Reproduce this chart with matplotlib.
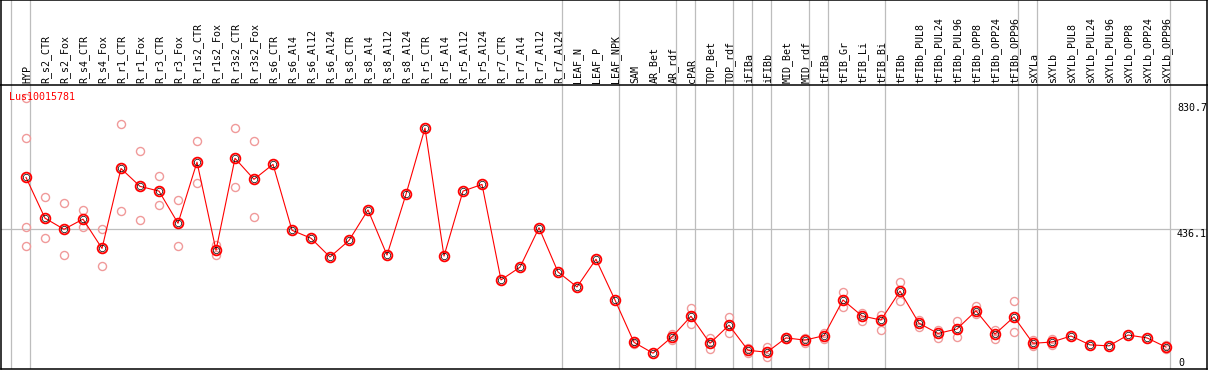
import numpy as np
import matplotlib
matplotlib.use('Agg')
import matplotlib.pyplot as plt
import matplotlib.transforms as mtransforms

gene = "Lus10015781"

samples = [
    "HYP", "R_s2_CTR", "R_s2_Fox", "R_s4_CTR", "R_s4_Fox", "R_r1_CTR", "R_r1_Fox",
    "R_r3_CTR", "R_r3_Fox", "R_r1s2_CTR", "R_r1s2_Fox", "R_r3s2_CTR", "R_r3s2_Fox",
    "R_s6_CTR", "R_s6_Al4", "R_s6_Al12", "R_s6_Al24", "R_s8_CTR", "R_s8_Al4",
    "R_s8_Al12", "R_s8_Al24", "R_r5_CTR", "R_r5_Al4", "R_r5_Al12", "R_r5_Al24",
    "R_r7_CTR", "R_r7_Al4", "R_r7_Al12", "R_r7_Al24", "LEAF_N", "LEAF_P", "LEAF_NPK",
    "SAM", "AR_Bet", "AR_rdf", "cPAR", "TOP_Bet", "TOP_rdf", "iFIBa", "iFIBb",
    "MID_Bet", "MID_rdf", "tFIBa", "tFIB_Gr", "tFIB_Li", "tFIB_Bi", "tFIBb",
    "tFIBb_PUL8", "tFIBb_PUL24", "tFIBb_PUL96", "tFIBb_OPP8", "tFIBb_OPP24",
    "tFIBb_OPP96", "sXYLa", "sXYLb", "sXYLb_PUL8", "sXYLb_PUL24", "sXYLb_PUL96",
    "sXYLb_OPP8", "sXYLb_OPP24", "sXYLb_OPP96",
]

means = [
    597, 469, 434, 466, 374, 625, 569, 554, 453, 645, 368, 657, 591,
    638, 431, 406, 347, 399, 495, 353, 544, 752, 350, 554, 575,
    275, 315, 439, 300, 253, 340, 212,
    79, 45, 96, 161, 76, 133, 54, 48,
    93, 86, 100, 212, 162, 149, 240,
    139, 107, 121, 178, 105, 159,
    76, 80, 99, 71, 68, 102, 93, 64,
]

replicates = [
    [845, 720, 441, 382], [535, 407], [516, 353], [495, 441], [434, 319],
    [764, 491], [679, 462], [600, 509], [525, 382], [710, 578], [385, 354],
    [751, 566], [710, 472],
    [], [], [], [], [], [], [], [], [], [], [], [], [], [], [], [],
    [], [], [],
    [84, 74], [], [105, 86], [186, 136], [94, 58], [159, 107], [60, 45], [65, 34],
    [96, 89], [93, 78], [107, 89], [236, 189], [172, 147], [165, 119], [268, 209],
    [149, 128], [118, 94], [145, 96], [193, 168], [118, 90], [208, 111],
    [86, 68], [89, 70], [], [], [], [], [], [71, 58],
]

# last sample index of each group (grey separators drawn just after it)
group_ends = [-1, 0, 28, 31, 34, 35, 37, 38, 39, 41, 42, 45, 52, 53, 60]

y_labels = [830.7, 436.1]

W, H = 1209, 370
fig = plt.figure(figsize=(W / 100, H / 100), dpi=100)
fig.patch.set_facecolor('white')

px = 1.0 / W
py = 1.0 / H
left_px, right_px = 1, 1207
hdr_px, bot_px = 85, 369

ax_h = fig.add_axes([left_px * px, (H - hdr_px) * py, (right_px - left_px) * px, hdr_px * py])
ax = fig.add_axes([left_px * px, (H - bot_px) * py, (right_px - left_px) * px, (bot_px - hdr_px) * py])

x = np.arange(len(samples))
step = 19.0
x_lo = (left_px - 26) / step
x_hi = (right_px - 26) / step
for a in (ax, ax_h):
    a.set_xlim(x_lo, x_hi)
    a.set_xticks([])
    a.set_yticks([])
    for s in a.spines.values():
        s.set_color('black')
        s.set_linewidth(1.1)
ax_h.set_ylim(0, 1)
ax_h.spines['bottom'].set_visible(False)

# value axis: 0 near the bottom, 830.7 about 265 px above it
scale = 830.7 / 264.5
ax.set_ylim(-1.5 * scale, (367.5 - 85) * scale)

grey = '#bdbdbd'
for g in group_ends:
    ax.axvline(g + 0.23, color=grey, lw=0.9, zorder=1)
    ax_h.axvline(g + 0.23, color=grey, lw=0.9, zorder=1)
ax.axhline(y_labels[1], color=grey, lw=0.9, zorder=1)

mono = 'DejaVu Sans Mono'
fs = 7.2

for i, name in enumerate(samples):
    ax_h.text(i + 0.05, 0.025, name, rotation=90, ha='center', va='bottom',
              fontsize=fs, family=mono, color='black')

# replicate points
for i, reps in enumerate(replicates):
    if reps:
        ax.plot([i] * len(reps), reps, linestyle='none', marker='o', ms=5.8,
                mfc='none', mec='#f09a9a', mew=1.0, zorder=2)

ax.plot(x, means, color='red', lw=0.8, zorder=3)
ax.plot(x, means, linestyle='none', marker='o', ms=7.0, mfc='none',
        mec='red', mew=1.3, zorder=4)
ax.plot(x, means, linestyle='none', marker='o', ms=4.6, mfc='none',
        mec='black', mew=0.5, zorder=5)

blend = mtransforms.blended_transform_factory(ax.transAxes, ax.transData)
for v in y_labels:
    ax.annotate(f"{v}", xy=(1, v), xycoords=blend, xytext=(0, -8),
                textcoords='offset pixels', ha='right', va='baseline',
                fontsize=fs, family=mono, color='black')
ax.annotate("0", xy=(1, 0), xycoords='axes fraction', xytext=(-23, 3.5),
            textcoords='offset pixels', ha='right', va='baseline',
            fontsize=fs, family=mono, color='black')

ax.annotate(gene, xy=(0, 1), xycoords='axes fraction', xytext=(8, -12),
            textcoords='offset pixels', ha='left', va='center',
            fontsize=fs, family=mono, color='red', zorder=6)

fig.savefig('out.png', dpi=100, facecolor='white')
